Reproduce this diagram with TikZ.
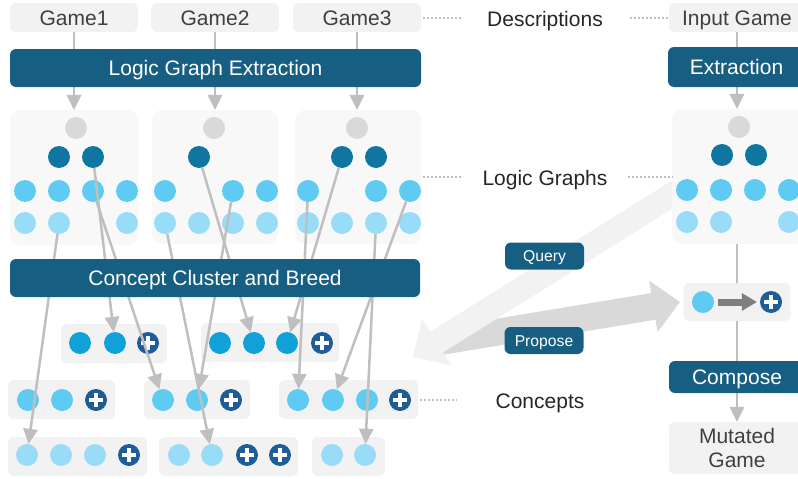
\documentclass[tikz,border=0pt]{standalone}
\usepackage{fontspec}
\setmainfont{Liberation Sans}
\usetikzlibrary{arrows.meta,calc}
\definecolor{panelbg}{HTML}{F8F8F8}
\definecolor{boxgray}{HTML}{F2F2F2}
\definecolor{cgray}{HTML}{D9D9D9}
\definecolor{cdark}{HTML}{0E76A0}
\definecolor{cthree}{HTML}{5FCBF3}
\definecolor{cfour}{HTML}{98DCF7}
\definecolor{cmid}{HTML}{10A1D9}
\definecolor{plusblue}{HTML}{1F5D99}
\definecolor{barblue}{HTML}{175F82}
\definecolor{lgray}{HTML}{BFBFBF}
\definecolor{qgray}{HTML}{F2F2F2}
\definecolor{pgray}{HTML}{D9D9D9}
\definecolor{agray}{HTML}{7F7F7F}
\definecolor{textdark}{HTML}{262626}
\definecolor{textgray}{HTML}{404040}
\begin{document}
\begin{tikzpicture}[x=1pt,y=-1pt,
  sBig/.style={font=\fontsize{21}{23.5}\selectfont},
  sCapc/.style={text height=15pt, text depth=0pt},
  sGbox/.style={fill=boxgray, rounded corners=6pt, inner sep=0pt, sBig, sCapc, text=textgray},
  sBar/.style={fill=barblue, rounded corners=6pt, inner sep=0pt, sBig, sCapc, text=white},
  sLbl/.style={inner sep=0pt, sBig, sCapc, text=textdark},
  sTag/.style={fill=barblue, rounded corners=6pt, inner sep=0pt, text=white, font=\fontsize{15.7}{18}\selectfont, text height=11.2pt, text depth=0pt, minimum width=79pt, minimum height=27pt},
  sPanel/.style={fill=panelbg, rounded corners=10pt, inner sep=0pt},
  sCbox/.style={fill=boxgray, rounded corners=6pt, inner sep=0pt, minimum height=39pt},
  sBall/.style={circle, inner sep=0pt, minimum size=22pt},
  ciG/.style={sBall, fill=cgray},
  ciD/.style={sBall, fill=cdark},
  ciL/.style={sBall, fill=cthree},
  ciV/.style={sBall, fill=cfour},
  ciM/.style={sBall, fill=cmid},
  ciP/.style={sBall, fill=plusblue, path picture={
      \draw[white, line width=3.5pt] ([xshift=-7pt]path picture bounding box.center) -- ([xshift=7pt]path picture bounding box.center);
      \draw[white, line width=3.5pt] ([yshift=-7pt]path picture bounding box.center) -- ([yshift=7pt]path picture bounding box.center);}},
  sConn/.style={draw=lgray, line width=2.5pt, -{Triangle[length=15pt 0 0, width=15pt 0 0, line width=0pt]}},
  sLink/.style={draw=lgray, line width=2.5pt},
  sDots/.style={draw=lgray, line width=2pt, dash pattern=on 2pt off 2pt}
]
\useasboundingbox (0,0) rectangle (798,479);
\clip (0,0) rectangle (798,479);

% big arrows
\fill[pgray] (437.8,328.3) -- (651.2,293.1) -- (649.2,280.7) -- (680,302) -- (657.6,332.1) -- (655.6,319.7) -- (442.2,354.9) -- cycle;
\fill[qgray] (683.6,173.2) -- (430.3,331.9) -- (422.1,318.8) -- (413,357) -- (451.3,365.4) -- (443.1,352.3) -- (696.4,193.6) -- cycle;

% top boxes
\node[sGbox, minimum width=128pt, minimum height=29pt] (game1) at (74,17.5) {Game1};
\node[sGbox, minimum width=128pt, minimum height=29pt] (game2) at (215,17.5) {Game2};
\node[sGbox, minimum width=128pt, minimum height=29pt] (game3) at (357,17.5) {Game3};
\node[sGbox, minimum width=136pt, minimum height=29pt] (input) at (737,17.5) {Input Game};
\node[fill=boxgray, rounded corners=6pt, inner sep=0pt, sBig, text=textgray, align=center, minimum width=136pt, minimum height=52pt] (mutated) at (737,448) {Mutated\\Game};

% side labels
\node[sLbl] (desc) at (545,18.5) {Descriptions};
\node[sLbl] (lg) at (545,177.5) {Logic Graphs};
\node[sLbl] (concepts) at (540,401) {Concepts};

% panels
\node[sPanel, minimum width=128pt, minimum height=135pt] (panel1) at (74,177.5) {};
\node[sPanel, minimum width=126pt, minimum height=134pt] (panel2) at (215,177) {};
\node[sPanel, minimum width=126pt, minimum height=134pt] (panel3) at (358,177) {};
\node[sPanel, minimum width=133pt, minimum height=135pt] (rpanel) at (738.5,176.5) {};

% panel 1
\node[ciG] (p1g) at (76,128) {};
\node[ciD] (p1d1) at (59,157) {};
\node[ciD] (p1d2) at (93,157) {};
\node[ciL] (p1r31) at (25,191) {};
\node[ciL] (p1r32) at (59,191) {};
\node[ciL] (p1r33) at (93,191) {};
\node[ciL] (p1r34) at (127,191) {};
\node[ciV] (p1r41) at (25,223) {};
\node[ciV] (p1r42) at (59,223) {};
\node[ciV] (p1r44) at (127,223) {};
% panel 2
\node[ciG] (p2g) at (214,128) {};
\node[ciD] (p2d1) at (199,157) {};
\node[ciL] (p2r31) at (165,191) {};
\node[ciL] (p2r33) at (233,191) {};
\node[ciL] (p2r34) at (267,191) {};
\node[ciV] (p2r41) at (165,223) {};
\node[ciV] (p2r42) at (199,223) {};
\node[ciV] (p2r43) at (233,223) {};
\node[ciV] (p2r44) at (267,223) {};
% panel 3
\node[ciG] (p3g) at (357,128) {};
\node[ciD] (p3d1) at (342,157) {};
\node[ciD] (p3d2) at (376,157) {};
\node[ciL] (p3r31) at (308,191) {};
\node[ciL] (p3r33) at (376,191) {};
\node[ciL] (p3r34) at (410,191) {};
\node[ciV] (p3r41) at (308,223) {};
\node[ciV] (p3r42) at (342,223) {};
\node[ciV] (p3r43) at (376,223) {};
\node[ciV] (p3r44) at (410,223) {};
% right panel
\node[ciG] (rg) at (739,127) {};
\node[ciD] (rd1) at (722,155) {};
\node[ciD] (rd2) at (756,155) {};
\node[ciL] (r31) at (687,190) {};
\node[ciL] (r32) at (721,190) {};
\node[ciL] (r33) at (755,190) {};
\node[ciL] (r34) at (789,190) {};
\node[ciV] (r41) at (687,222) {};
\node[ciV] (r42) at (721,222) {};
\node[ciV] (r44) at (789,222) {};

% mutation box
\node[sCbox, minimum width=107pt, minimum height=38pt] (mut) at (737,302) {};
\node[ciL] (mc) at (703,302) {};
\node[ciP] (mp) at (771,302) {};
\draw[draw=agray, line width=7pt, -{Triangle[length=15pt 0 0, width=18pt 0 0, line width=0pt]}] ([xshift=4pt]mc.east) -- ([xshift=-3pt]mp.west);

% concept boxes row A
\node[sCbox, minimum width=106pt] (a1) at (114,343.5) {};
\node[ciM] (a1c1) at (80,343) {};
\node[ciM] (a1c2) at (115,343) {};
\node[ciP] (a1p) at (148,343) {};
\node[sCbox, minimum width=138pt] (a2) at (270,342.5) {};
\node[ciM] (a2c1) at (220,343) {};
\node[ciM] (a2c2) at (254,343) {};
\node[ciM] (a2c3) at (287,343) {};
\node[ciP] (a2p) at (322,343) {};
% row B
\node[sCbox, minimum width=107pt] (b1) at (61.5,399.5) {};
\node[ciL] (b1c1) at (28,400) {};
\node[ciL] (b1c2) at (62,400) {};
\node[ciP] (b1p) at (96,400) {};
\node[sCbox, minimum width=106pt] (b2) at (197,399.5) {};
\node[ciL] (b2c1) at (163,400) {};
\node[ciL] (b2c2) at (197,400) {};
\node[ciP] (b2p) at (231,400) {};
\node[sCbox, minimum width=139pt] (b3) at (348.5,399.5) {};
\node[ciL] (b3c1) at (298,400) {};
\node[ciL] (b3c2) at (333,400) {};
\node[ciL] (b3c3) at (367,400) {};
\node[ciP] (b3p) at (400,400) {};
% row C
\node[sCbox, minimum width=139pt] (c1) at (77.5,456.5) {};
\node[ciV] (c1c1) at (27,455) {};
\node[ciV] (c1c2) at (61,455) {};
\node[ciV] (c1c3) at (95,455) {};
\node[ciP] (c1p) at (129,455) {};
\node[sCbox, minimum width=139pt] (c2) at (228.5,456.5) {};
\node[ciV] (c2c1) at (179,455) {};
\node[ciV] (c2c2) at (212,455) {};
\node[ciP] (c2p1) at (247,455) {};
\node[ciP] (c2p2) at (280,455) {};
\node[sCbox, minimum width=73pt] (c3) at (348.5,456.5) {};
\node[ciV] (c3c1) at (332,455) {};
\node[ciV] (c3c2) at (365,455) {};

% dotted leaders
\draw[sDots] ([xshift=2pt]game3.east) -- ($(game3.east -| desc.west)+(-25,0)$);
\draw[sDots] ($(input.west -| desc.east)+(27,0)$) -- (input.west);
\draw[sDots] ([xshift=2pt]panel3.east) -- ($(panel3.east -| lg.west)+(-20,0)$);
\draw[sDots] ($(rpanel.west -| lg.east)+(20,0)$) -- (rpanel.west);
\draw[sDots] ([xshift=2pt]b3.east) -- ($(b3.east -| concepts.west)+(-39,0)$);

% connectors
\draw[sConn] (game1) -- (panel1);
\draw[sConn] (game2) -- (panel2);
\draw[sConn] (game3.south) -- (game3.south |- panel3.north);
\draw[sConn] (input.south) -- (input.south |- rpanel.north);
\draw[sLink] (mut.north |- rpanel.south) -- (mut.north);
\draw[sConn] (mut.south) -- (mut.south |- mutated.north);

\draw[sConn] (p1r42) -- (c1c1);
\draw[sConn] (p1d2) -- (a1c2);
\draw[sConn] (p1r33) -- (b2c1);
\draw[sConn] (p2r41) -- (c2c2);
\draw[sConn] (p2d1) -- (a2c2);
\draw[sConn] (p2r33) -- (b2c2);
\draw[sConn] (p3d1) -- (a2c3);
\draw[sConn] (p3r31) -- (b3c1);
\draw[sConn] (p3r34) -- (b3c2);
\draw[sConn] (p3r43) -- (c3c2);

% bars
\node[sBar, minimum width=411pt, minimum height=38pt] (lge) at (215.5,68) {Logic Graph Extraction};
\node[sBar, minimum width=137pt, minimum height=40pt] (ext) at (736.5,67) {Extraction};
\node[sBar, minimum width=410pt, minimum height=38pt] (ccb) at (215,278) {Concept Cluster and Breed};
\node[sBar, minimum width=136pt, minimum height=32pt] (comp) at (737,377) {Compose};

% tags
\node[sTag] (query) at (544.5,256) {Query};
\node[sTag] (propose) at (544,340.5) {Propose};
\end{tikzpicture}
\end{document}
